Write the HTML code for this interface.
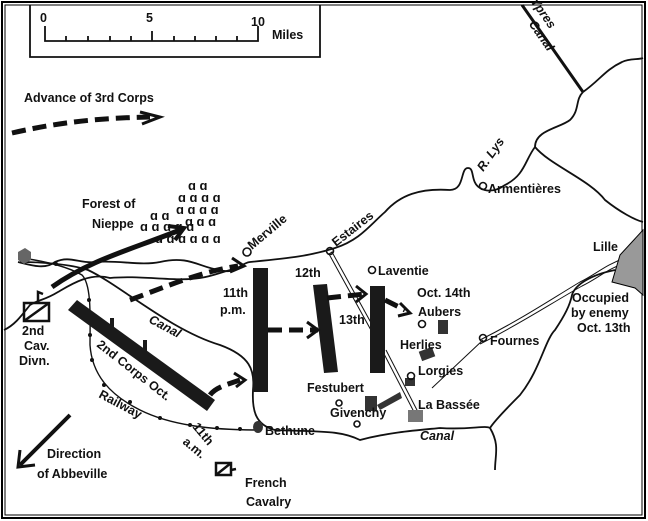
<!DOCTYPE html>
<html><head><style>
html,body{margin:0;padding:0;background:#fff;}
svg{display:block;}
text{font-family:"Liberation Sans",sans-serif;fill:#111;font-weight:bold;}
</style></head><body>
<svg width="648" height="521" viewBox="0 0 648 521" xmlns="http://www.w3.org/2000/svg">
<rect x="0" y="0" width="648" height="521" fill="#fff"/>
<rect x="2" y="2" width="643" height="516" fill="none" stroke="#000" stroke-width="2"/>
<rect x="5" y="5" width="637" height="510" fill="none" stroke="#000" stroke-width="1"/>
<g fill="none" stroke="#111" stroke-width="1.8">
<path d="M30 5 V57 H320 V5"/>
<path d="M45 26 V41 H258 V26 M66 36V41 M88 36V41 M110 36V41 M131 36V41 M152 31V41 M174 36V41 M195 36V41 M216 36V41 M237 36V41"/>
<path d="M522 5 L583 92" stroke-width="3"/>
<path d="M583 92 C600 80 605 70 622 62 C630 58 638 60 643 58"/>
<path d="M583 92 C575 100 580 110 570 120 C560 128 535 130 535 147 C550 165 590 180 605 200 C620 212 635 220 643 222"/>
<path d="M535 147 C525 160 525 175 505 185 C495 192 487 192 480 188 C470 182 475 168 468 168 C460 168 465 190 450 190 C420 188 400 195 385 212 C370 225 360 240 335 248 C310 256 290 258 250 262 C240 263 235 275 220 270 C200 268 190 255 160 262 C140 266 120 260 95 262 C80 264 70 255 55 262 C45 270 30 265 18 262"/>
<path d="M4 330 C15 325 22 315 30 305 C38 300 45 300 58 292 C70 285 90 272 110 278 C140 275 175 282 200 278 C215 276 225 270 240 268"/>
<path d="M20 262 C40 262 70 264 88 270 C120 285 170 330 220 345 C250 356 255 370 253 390 C252 410 255 425 275 430 C320 432 340 430 360 440 C390 432 420 430 440 428 C470 430 485 425 490 428"/>
<path d="M490 428 C500 445 495 455 495 470"/>
<path d="M490 428 C495 420 510 405 520 395 C540 370 545 340 555 330 C565 315 570 305 572 295 C575 285 590 275 615 270"/>
<path d="M22 258 C50 262 70 268 82 275 C92 285 90 320 90 345 C92 375 110 395 140 410 C170 425 210 430 258 430" stroke-width="1.4"/>
<path d="M332 252 L375 330 L372 332 L329 254 Z" stroke-width="1"/>
<path d="M382 350 L414 412" stroke-width="1" />
<path d="M386 350 L418 412" stroke-width="1" />
<path d="M480 340 C520 320 550 300 580 282 C595 275 605 265 625 258" stroke-width="1"/>
<path d="M480 344 C520 324 550 304 582 286 C597 279 607 269 627 262" stroke-width="1"/>
<path d="M483 340 L432 388" stroke-width="1"/>
</g>
<g fill="#111"><circle cx="56" cy="264" r="2"/><circle cx="78" cy="272" r="2"/><circle cx="89" cy="300" r="2"/><circle cx="90" cy="335" r="2"/><circle cx="92" cy="360" r="2"/><circle cx="104" cy="385" r="2"/><circle cx="130" cy="402" r="2"/><circle cx="160" cy="418" r="2"/><circle cx="190" cy="425" r="2"/><circle cx="217" cy="428" r="2"/><circle cx="240" cy="429" r="2"/></g>
<path d="M643 230 L620 255 L612 282 L635 288 L643 295 Z" fill="#999" stroke="#000"/>
<g fill="#1a1a1a">
<rect x="253" y="268" width="15" height="124"/>
<polygon points="313,285 327,284 338,372 324,373"/>
<rect x="370" y="286" width="15" height="87"/>
<polygon points="68,310 77,300 215,400 207,411"/>
<polygon points="110,318 114,318 114,330 110,330"/>
<polygon points="143,340 147,340 147,352 143,352"/>
<polygon points="200,392 204,392 204,404 200,404"/>
</g>
<g fill="#333"><rect x="365" y="396" width="12" height="15"/><polygon points="377,405 400,392 402,398 380,410"/><rect x="405" y="378" width="10" height="8"/><rect x="420" y="349" width="14" height="10" transform="rotate(-20 427 354)"/><rect x="438" y="320" width="10" height="14"/><rect x="408" y="410" width="15" height="12" fill="#777"/><path d="M18 252 l7 -4 l6 4 l0 8 l-7 4 l-6 -4z" fill="#666"/><ellipse cx="258" cy="427" rx="5" ry="6"/></g>
<g fill="none" stroke="#111" stroke-width="5" stroke-dasharray="14,7">
<path d="M12 133 C60 122 100 118 150 117"/>
<path d="M130 300 C170 285 200 272 238 266"/>
<path d="M268 330 L318 330"/>
<path d="M327 298 L365 294"/>
<path d="M385 300 L405 310"/>
<path d="M210 395 C215 388 225 385 240 380"/>
</g>
<g fill="none" stroke="#111" stroke-width="3">
<path d="M140 112 L160 117 L142 124"/>
<path d="M232 258 L244 266 L230 272"/>
<path d="M307 322 L318 330 L307 338"/>
<path d="M356 286 L366 294 L356 302"/>
<path d="M400 303 L410 313 L398 316"/>
<path d="M234 373 L245 380 L236 387"/>
<path d="M52 287 C90 260 130 250 180 230" stroke-width="5"/>
<path d="M168 226 L184 228 L175 240" stroke-width="4"/>
<path d="M70 415 L20 465" stroke-width="4"/>
<path d="M20 450 L18 467 L35 465" stroke-width="3"/>
</g>
<g fill="none" stroke="#111" stroke-width="2.5"><rect x="24" y="303" width="25" height="18"/><path d="M24 321 L49 303 M38 303 V292 l5 2"/><rect x="216" y="463" width="15" height="12"/><path d="M216 475 L231 463 M231 470 l5 -1"/></g>
<g font-size="13" font-weight="bold">
<text x="188" y="190">ɑ ɑ</text>
<text x="178" y="202">ɑ ɑ ɑ ɑ</text>
<text x="176" y="214">ɑ ɑ ɑ ɑ</text>
<text x="150" y="220">ɑ ɑ</text>
<text x="140" y="231">ɑ ɑ ɑ ɑ ɑ</text>
<text x="185" y="226">ɑ ɑ ɑ</text>
<text x="155" y="243">ɑ ɑ ɑ ɑ ɑ ɑ</text>
</g>
<g fill="none" stroke="#111" stroke-width="1.6"><circle cx="247" cy="252" r="4"/><circle cx="330" cy="251" r="3.5"/><circle cx="372" cy="270" r="3.5"/><circle cx="483" cy="186" r="3.5"/><circle cx="422" cy="324" r="3.5"/><circle cx="483" cy="338" r="3.5"/><circle cx="411" cy="376" r="3.5"/><circle cx="339" cy="403" r="3"/><circle cx="357" cy="424" r="3"/></g>
<g font-size="12.5">
<text x="40" y="22">0</text><text x="146" y="22">5</text><text x="251" y="26">10</text><text x="272" y="39">Miles</text>
<text x="24" y="102">Advance of 3rd Corps</text>
<text x="82" y="208">Forest of</text><text x="92" y="228">Nieppe</text>
<text x="252" y="250" transform="rotate(-40 252 250)">Merville</text>
<text x="336" y="247" transform="rotate(-38 336 247)">Estaires</text>
<text x="488" y="193">Armentières</text>
<text x="593" y="251">Lille</text>
<text x="572" y="302">Occupied</text><text x="571" y="317">by enemy</text><text x="577" y="332">Oct. 13th</text>
<text x="295" y="277">12th</text>
<text x="378" y="275">Laventie</text>
<text x="417" y="297">Oct. 14th</text>
<text x="418" y="316">Aubers</text>
<text x="400" y="349">Herlies</text>
<text x="490" y="345">Fournes</text>
<text x="418" y="375">Lorgies</text>
<text x="339" y="324">13th</text>
<text x="223" y="297">11th</text><text x="220" y="314">p.m.</text>
<text x="307" y="392">Festubert</text>
<text x="330" y="417">Givenchy</text>
<text x="418" y="409">La Bassée</text>
<text x="420" y="440" font-style="italic">Canal</text>
<text x="265" y="435">Bethune</text>
<text x="148" y="322" font-style="italic" transform="rotate(28 148 322)">Canal</text>
<text x="96" y="346" transform="rotate(38 96 346)">2nd Corps Oct.</text>
<text x="192" y="427" transform="rotate(50 192 427)">11th</text>
<text x="182" y="443" transform="rotate(40 182 443)">a.m.</text>
<text x="98" y="397" transform="rotate(28 98 397)">Railway</text>
<text x="22" y="335">2nd</text><text x="24" y="350">Cav.</text><text x="19" y="365">Divn.</text>
<text x="47" y="458">Direction</text><text x="37" y="478">of Abbeville</text>
<text x="245" y="487">French</text><text x="246" y="506">Cavalry</text>
<text x="510" y="20" font-style="italic" transform="rotate(55 538 30)">Ypres</text>
<text x="520" y="30" font-style="italic" transform="rotate(55 530 35)">Canal</text>
<text x="477" y="170" font-style="italic" transform="rotate(-55 482 165)">R. Lys</text>
</g>
</svg>
</body></html>
